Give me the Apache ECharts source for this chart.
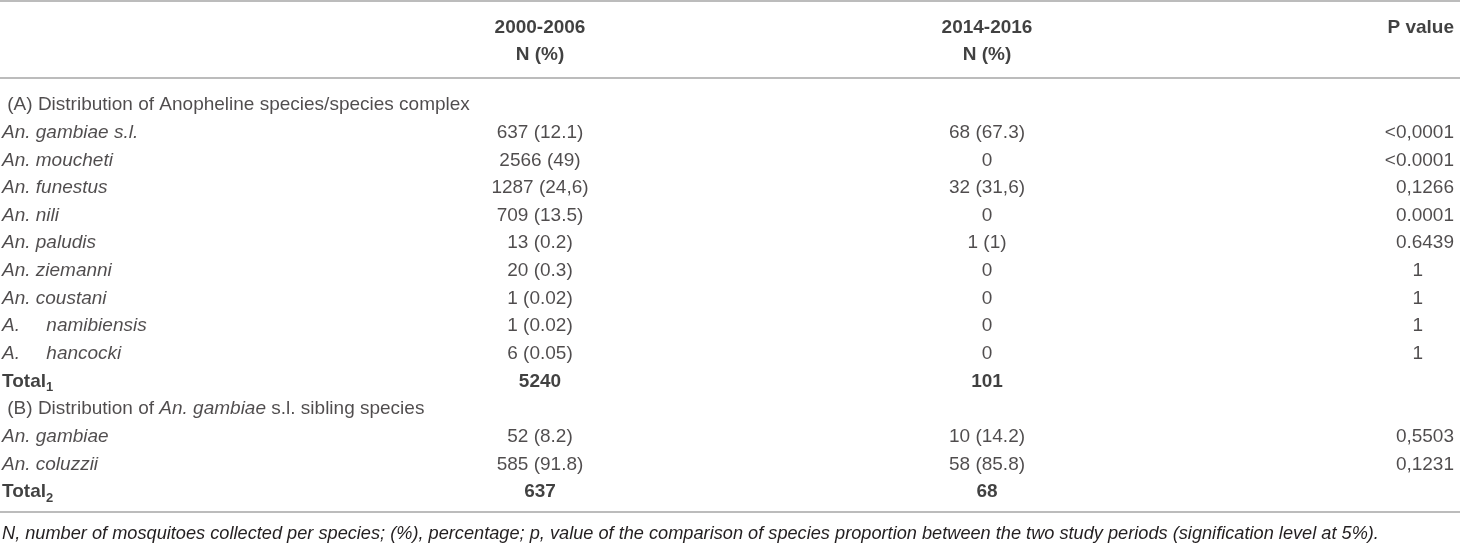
<!DOCTYPE html>
<html>
<head>
<meta charset="utf-8">
<title>Anopheline species distribution</title>
<script src="https://cdn.jsdelivr.net/npm/echarts@6/dist/echarts.min.js"></script>
<style>
  html, body { margin: 0; padding: 0; background: #fff; }
  #chart { width: 1460px; height: 543px; }
</style>
</head>
<body>
<div id="chart"></div>
<script>
'use strict';

// table content, one entry per body row
var rowLabels = [
    ' (A) Distribution of Anopheline species/species complex',
    'An. gambiae s.l.',
    'An. moucheti',
    'An. funestus',
    'An. nili',
    'An. paludis',
    'An. ziemanni',
    'An. coustani',
    'A.     namibiensis',
    'A.     hancocki',
    'Total1',
    ' (B) Distribution of An. gambiae s.l. sibling species',
    'An. gambiae',
    'An. coluzzii',
    'Total2'
];
var rowKinds = [
    'section', 'species', 'species', 'species', 'species', 'species', 'species',
    'species', 'species', 'species', 'total', 'section', 'species', 'species', 'total'
];
var period1 = [
    '', '637 (12.1)', '2566 (49)', '1287 (24,6)', '709 (13.5)', '13 (0.2)', '20 (0.3)',
    '1 (0.02)', '1 (0.02)', '6 (0.05)', '5240', '', '52 (8.2)', '585 (91.8)', '637'
];
var period2 = [
    '', '68 (67.3)', '0', '32 (31,6)', '0', '1 (1)', '0',
    '0', '0', '0', '101', '', '10 (14.2)', '58 (85.8)', '68'
];
var pValues = [
    '', '<0,0001', '<0.0001', '0,1266', '0.0001', '0.6439', '1',
    '1', '1', '1', '', '', '0,5503', '0,1231', ''
];
var headerTop = ['', '2000-2006', '2014-2016', 'P value'];
var headerBottom = ['', 'N (%)', 'N (%)', ''];
var footnote = 'N, number of mosquitoes collected per species; (%), percentage; p, value of the comparison of species proportion between the two study periods (signification level at 5%).';

// layout
var W = 1460;
var colX = [2, 540, 987, 1454];
var colAlign = ['left', 'center', 'center', 'right'];
var rowH = 27.64;
var bodyCenter0 = 105;
var headRowH = 27;
var headCenter0 = 28;
var FS = 19;
var FONT = '"Liberation Sans", Arial, Helvetica, sans-serif';
var TEXT = '#231f20';
var RULE = '#a6a6a6';

var rich = {
    rg: {fontSize: FS, fontFamily: FONT, color: TEXT},
    it: {fontSize: FS, fontFamily: FONT, color: TEXT, fontStyle: 'italic'},
    b: {fontSize: FS, fontFamily: FONT, color: '#111', fontWeight: 'bold', lineHeight: 25},
    sub: {fontSize: 13, fontFamily: FONT, color: '#111', fontWeight: 'bold', verticalAlign: 'bottom'}
};

function firstColText(label, kind) {
    if (kind === 'species') {
        return '{it|' + label + '}';
    }
    if (kind === 'total') {
        return '{b|' + label.slice(0, -1) + '}{sub|' + label.slice(-1) + '}';
    }
    var k = label.indexOf('An. gambiae');
    if (k >= 0) {
        return '{rg|' + label.slice(0, k) + '}{it|An. gambiae}{rg|' + label.slice(k + 11) + '}';
    }
    return '{rg|' + label + '}';
}

function cellSeries(col, values, gridIndex, bold) {
    return {
        type: 'scatter',
        xAxisIndex: gridIndex,
        yAxisIndex: gridIndex,
        symbolSize: 0,
        silent: true,
        animation: false,
        data: values.map(function (v, i) {
            var isBold = bold || rowKinds[i] === 'total';
            var item = {value: [colX[col], i], name: v};
            item.label = {
                fontWeight: isBold ? 'bold' : 'normal',
                color: isBold ? '#111' : TEXT,
                // the "1" p values sit under the middle of the header in the source
                padding: (col === 3 && v === '1' && gridIndex === 0) ? [0, 31, 0, 0] : 0
            };
            return item;
        }),
        label: {
            show: true,
            position: 'inside',
            align: colAlign[col],
            verticalAlign: 'middle',
            fontSize: FS,
            fontFamily: FONT,
            color: TEXT,
            formatter: function (p) {
                if (col === 0 && gridIndex === 0) {
                    return firstColText(rowLabels[p.dataIndex], rowKinds[p.dataIndex]);
                }
                return p.name;
            },
            rich: rich
        }
    };
}

var rowIdx = rowLabels.map(function (d, i) { return i; });

var option = {
    backgroundColor: '#fff',
    title: {
        text: footnote,
        left: 2,
        top: 525,
        padding: 0,
        textStyle: {
            fontSize: 18.2,
            fontStyle: 'italic',
            fontWeight: 'normal',
            fontFamily: FONT,
            color: TEXT
        }
    },
    grid: [
        {left: 0, right: 0, top: bodyCenter0 - rowH / 2, height: rowH * rowLabels.length},
        {left: 0, right: 0, top: headCenter0 - headRowH / 2, height: headRowH * 2}
    ],
    xAxis: [
        {type: 'value', gridIndex: 0, min: 0, max: W, show: false},
        {type: 'value', gridIndex: 1, min: 0, max: W, show: false}
    ],
    yAxis: [
        {type: 'category', gridIndex: 0, data: rowIdx, inverse: true, show: false},
        {type: 'category', gridIndex: 1, data: [0, 1], inverse: true, show: false}
    ],
    graphic: [
        {type: 'line', shape: {x1: 0, y1: 1, x2: W, y2: 1}, style: {stroke: RULE, lineWidth: 1.5}},
        {type: 'line', shape: {x1: 0, y1: 78, x2: W, y2: 78}, style: {stroke: RULE, lineWidth: 1.5}},
        {type: 'line', shape: {x1: 0, y1: 512, x2: W, y2: 512}, style: {stroke: RULE, lineWidth: 1.5}}
    ],
    series: [
        cellSeries(0, rowLabels, 0, false),
        cellSeries(1, period1, 0, false),
        cellSeries(2, period2, 0, false),
        cellSeries(3, pValues, 0, false),
        cellSeries(1, [headerTop[1], headerBottom[1]], 1, true),
        cellSeries(2, [headerTop[2], headerBottom[2]], 1, true),
        cellSeries(3, [headerTop[3], headerBottom[3]], 1, true)
    ]
};

var chart = echarts.init(document.getElementById('chart'), null, {renderer: 'canvas'});
chart.setOption(option);
</script>
</body>
</html>
